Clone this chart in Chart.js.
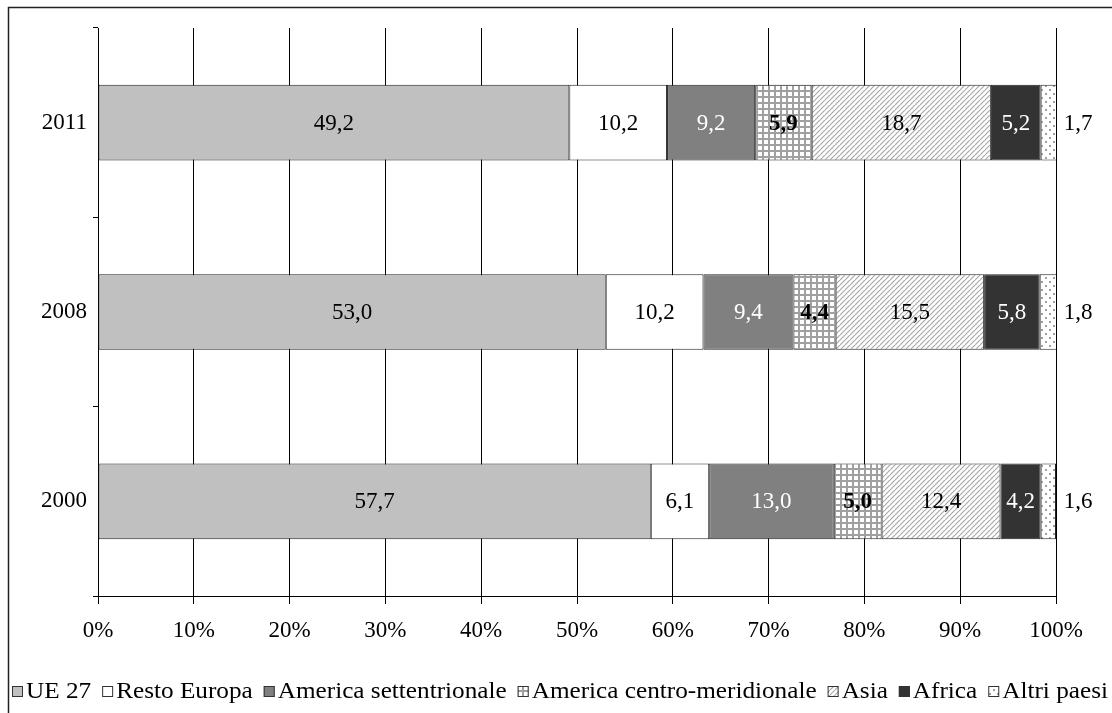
<!DOCTYPE html>
<html>
<head>
<meta charset="utf-8">
<script src="https://cdn.jsdelivr.net/npm/chart.js@4/dist/chart.umd.min.js"></script>
<style>
  html, body { margin: 0; padding: 0; background: #fff; }
  #wrap { position: relative; width: 1112px; height: 713px; }
</style>
</head>
<body>
<div id="wrap"><canvas id="c" width="1112" height="713"></canvas></div>
<script>
// Anni (categorie) e quote percentuali per area geografica
const years = ['2011', '2008', '2000'];
const ue27 = [49.2, 53.0, 57.7];
const restoEuropa = [10.2, 10.2, 6.1];
const americaSett = [9.2, 9.4, 13.0];
const americaCentroMer = [5.9, 4.4, 5.0];
const asia = [18.7, 15.5, 12.4];
const africa = [5.2, 5.8, 4.2];
const altriPaesi = [1.7, 1.8, 1.6];
const seriesNames = ['UE 27', 'Resto Europa', 'America settentrionale', 'America centro-meridionale', 'Asia', 'Africa', 'Altri paesi'];
const xTicks = [0, 10, 20, 30, 40, 50, 60, 70, 80, 90, 100];

const FONT = '"Liberation Serif", "Times New Roman", serif';

function makePattern(size, draw) {
  const c = document.createElement('canvas');
  c.width = size; c.height = size;
  const g = c.getContext('2d');
  g.fillStyle = '#fff';
  g.fillRect(0, 0, size, size);
  draw(g, size);
  return document.getElementById('c').getContext('2d').createPattern(c, 'repeat');
}

// quadrettatura
const gridPattern = makePattern(6, (g, s) => {
  g.fillStyle = '#a0a0a0';
  g.fillRect(0, 0, s, 2);
  g.fillRect(0, 0, 2, s);
});
// tratteggio diagonale
const diagPattern = makePattern(5, (g, s) => {
  g.strokeStyle = '#a8a8a8';
  g.lineWidth = 1.2;
  g.beginPath();
  g.moveTo(-1, s + 1); g.lineTo(s + 1, -1);
  g.moveTo(-1 - s, s + 1); g.lineTo(1, -1);
  g.moveTo(s - 1, 2 * s + 1); g.lineTo(2 * s + 1, s - 1);
  g.stroke();
});
// puntinato
const dotPattern = makePattern(8, (g, s) => {
  g.fillStyle = '#a0a0a0';
  g.fillRect(1, 1, 2, 2);
  g.fillRect(5, 5, 2, 2);
});

const fills = ['#c0c0c0', '#ffffff', '#808080', gridPattern, diagPattern, '#333333', dotPattern];
const labelColors = ['#000', '#000', '#fff', '#000', '#000', '#fff', '#000'];
const labelBold = [false, false, false, true, false, false, false];
const values = [ue27, restoEuropa, americaSett, americaCentroMer, asia, africa, altriPaesi];

const fmt = v => v.toFixed(1).replace('.', ',');

// cornice esterna (lato sinistro e superiore)
const framePlugin = {
  id: 'frame',
  beforeDraw(chart) {
    const ctx = chart.ctx;
    ctx.save();
    ctx.strokeStyle = '#222';
    ctx.lineWidth = 1.5;
    ctx.beginPath();
    ctx.moveTo(8.5, 713);
    ctx.lineTo(8.5, 7.5);
    ctx.lineTo(1112, 7.5);
    ctx.stroke();
    ctx.restore();
  }
};

// etichette dei valori sulle barre
const valueLabels = {
  id: 'valueLabels',
  afterDatasetsDraw(chart) {
    const ctx = chart.ctx;
    const area = chart.chartArea;
    ctx.save();
    ctx.textBaseline = 'middle';
    ctx.textAlign = 'center';
    chart.data.datasets.forEach((ds, di) => {
      const meta = chart.getDatasetMeta(di);
      ctx.fillStyle = labelColors[di];
      ctx.font = (labelBold[di] ? 'bold ' : '') + '23px ' + FONT;
      meta.data.forEach((el, i) => {
        const p = el.getProps(['x', 'y', 'base'], true);
        let cx = (Math.min(p.x, area.right) + p.base) / 2;
        if (di === chart.data.datasets.length - 1) cx = area.right + 22;
        ctx.fillText(fmt(ds.data[i]), cx, p.y + 1);
      });
    });
    ctx.restore();
  }
};

// legenda in basso
const bottomLegend = {
  id: 'bottomLegend',
  afterDraw(chart) {
    const ctx = chart.ctx;
    ctx.save();
    ctx.font = '24px ' + FONT;
    ctx.textBaseline = 'middle';
    ctx.textAlign = 'left';
    const box = 11, gapBox = 3, gapItem = 11;
    const names = chart.data.datasets.map(d => d.label);
    const textW = names.reduce((s, n) => s + ctx.measureText(n).width, 0);
    const fixed = names.length * (box + gapBox) + (names.length - 1) * gapItem;
    // la riga occupa lo spazio da 12 a 1108
    const sx = (1108 - 12 - fixed) / textW;
    let x = 12;
    const yBox = 686, yText = 692;
    chart.data.datasets.forEach((ds) => {
      ctx.fillStyle = ds.backgroundColor;
      ctx.fillRect(x, yBox, box, box);
      ctx.strokeStyle = '#333';
      ctx.lineWidth = 1;
      ctx.strokeRect(x + 0.5, yBox + 0.5, box - 1, box - 1);
      ctx.fillStyle = '#000';
      const tx = x + box + gapBox;
      ctx.save();
      ctx.translate(tx, yText);
      ctx.scale(sx, 1);
      ctx.fillText(ds.label, 0, 0);
      ctx.restore();
      x = tx + ctx.measureText(ds.label).width * sx + gapItem;
    });
    ctx.restore();
  }
};

new Chart(document.getElementById('c'), {
  type: 'bar',
  data: {
    labels: years,
    datasets: seriesNames.map((name, i) => ({
      label: name,
      data: values[i],
      backgroundColor: fills[i],
      borderColor: '#222',
      borderWidth: 1,
      borderSkipped: false,
      categoryPercentage: 1.0,
      barPercentage: 0.4
    }))
  },
  options: {
    indexAxis: 'y',
    responsive: false,
    animation: false,
    devicePixelRatio: 1,
    layout: { padding: { left: 0, top: 28, right: 56, bottom: 57 } },
    plugins: {
      legend: { display: false },
      tooltip: { enabled: false }
    },
    scales: {
      x: {
        stacked: true,
        min: 0,
        max: 100,
        afterBuildTicks(scale) { scale.ticks = xTicks.map(v => ({ value: v })); },
        afterFit(scale) { scale.height = 60; },
        ticks: {
          color: '#000',
          font: { family: FONT, size: 23 },
          padding: 13,
          maxRotation: 0,
          callback: v => v + '%'
        },
        grid: { color: '#000', lineWidth: 1, tickLength: 8, drawOnChartArea: true },
        border: { color: '#000', width: 1 }
      },
      y: {
        stacked: true,
        afterFit(scale) { scale.width = 98; },
        ticks: {
          color: '#000',
          font: { family: FONT, size: 23 },
          padding: 6
        },
        grid: { drawOnChartArea: false, color: '#000', tickLength: 5, offset: true },
        border: { color: '#000', width: 1 }
      }
    }
  },
  plugins: [framePlugin, valueLabels, bottomLegend]
});
</script>
</body>
</html>
